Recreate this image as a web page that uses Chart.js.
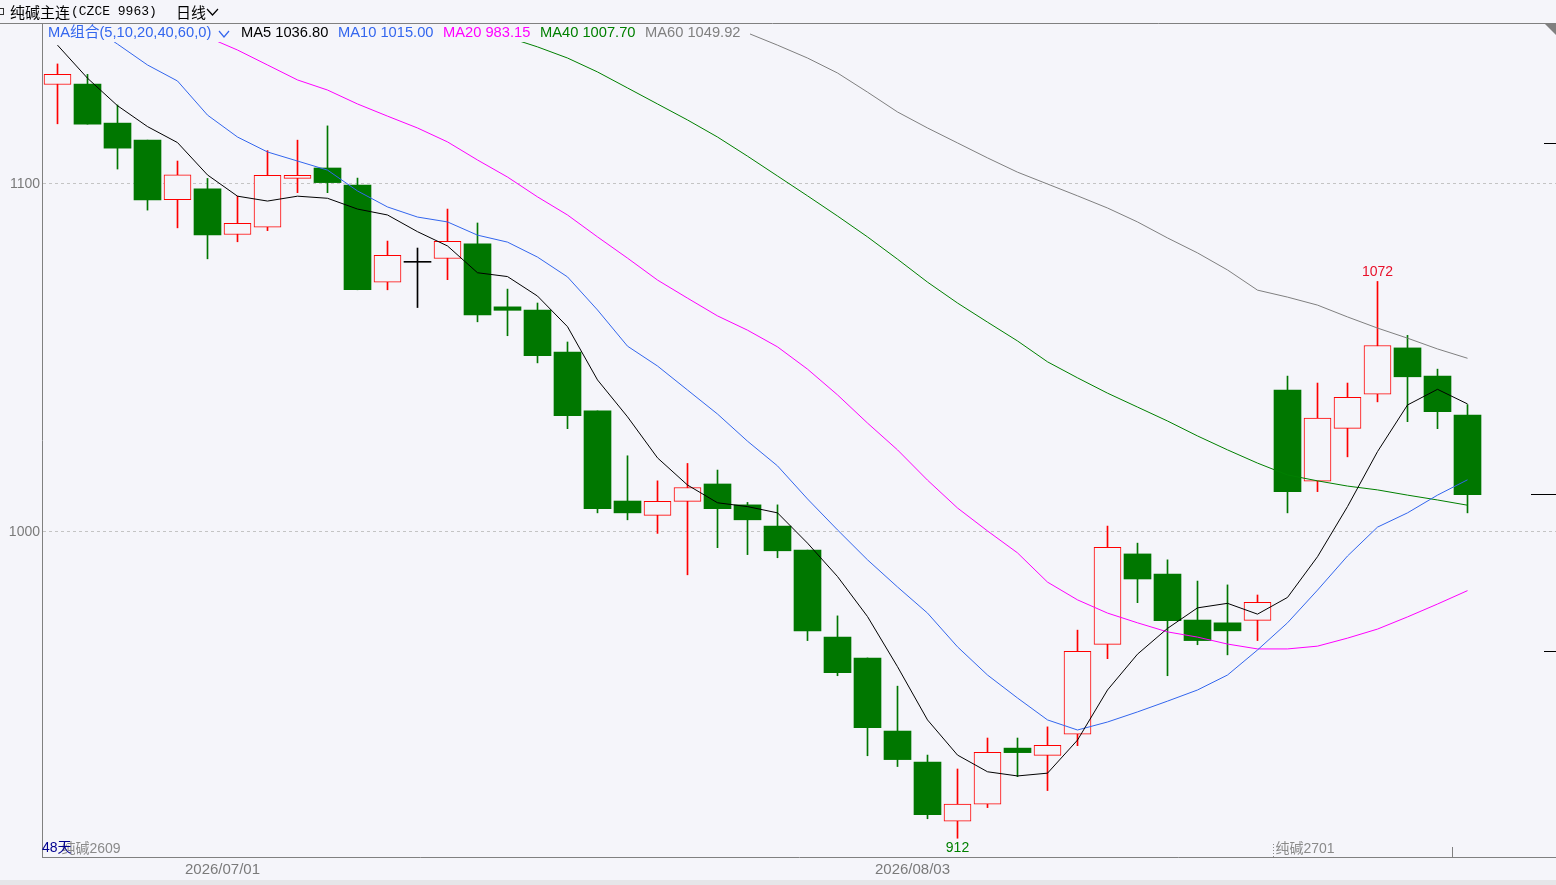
<!DOCTYPE html>
<html><head><meta charset="utf-8">
<script src="https://cdn.jsdelivr.net/npm/chart.js@4.4.1/dist/chart.umd.min.js"></script>
<style>html,body{margin:0;padding:0;background:#f5f5fa;overflow:hidden}canvas{display:block}</style>
</head><body>
<canvas id="c" width="1556" height="885"></canvas>
<script>
// ---- data ----
const opens  = [1128.6,1128.7,1117.5,1112.6,1095.5,1098.6,1085.5,1087.6,1101.6,1104.6,1099.7,1071.8,1077.5,1078.6,1082.8,1064.7,1063.8,1051.7,1034.8,1008.9,1004.8,1008.8,1013.8,1007.8,1001.7,994.8,969.8,963.8,942.8,933.9,916.9,921.8,937.9,935.8,941.9,967.7,993.7,987.9,974.7,973.9,974.6,1040.8,1014.6,1029.8,1039.6,1052.9,1044.8,1033.6];
const highs  = [1134.5,1131.5,1122.7,1112.6,1106.6,1101.6,1096.5,1109.6,1112.6,1116.7,1101.7,1083.6,1081.6,1092.8,1088.8,1069.8,1065.8,1054.6,1034.8,1021.9,1014.7,1019.7,1017.8,1008.5,1007.8,994.8,975.9,963.8,955.7,935.9,931.9,940.8,940.8,944.0,971.8,1001.7,996.8,992.0,985.9,984.8,981.9,1044.8,1042.8,1042.8,1072.0,1056.5,1046.8,1036.6];
const lows   = [1117.3,1117.2,1104.3,1092.5,1087.4,1078.5,1083.4,1086.6,1097.5,1097.5,1069.6,1069.6,1064.5,1072.5,1060.4,1056.4,1048.6,1029.7,1005.5,1003.5,999.6,987.7,995.5,993.5,992.6,968.8,958.7,935.7,932.6,917.6,912.0,920.8,929.7,925.7,938.6,963.6,979.7,958.7,967.6,964.7,968.8,1005.5,1011.6,1021.6,1037.4,1031.7,1029.7,1005.5];
const closes = [1131.5,1117.2,1110.3,1095.4,1102.6,1085.4,1088.7,1102.5,1102.5,1100.4,1069.6,1079.5,1077.5,1083.5,1062.4,1063.7,1050.7,1033.4,1006.7,1005.5,1008.8,1012.8,1006.7,1003.5,994.6,971.6,959.6,943.8,934.6,918.8,921.8,936.7,936.6,938.7,965.7,995.6,986.5,974.5,968.8,971.6,979.8,1011.6,1032.7,1038.7,1053.6,1044.6,1034.6,1010.7];

const ma5  = [1139.9,1130.4,1122.5,1116.5,1111.9,1102.6,1096.5,1095.1,1096.5,1095.9,1092.8,1091.1,1086.3,1082.2,1074.5,1073.4,1067.8,1059.0,1043.7,1033.1,1021.3,1013.5,1008.4,1007.3,1005.5,996.8,987.2,975.7,961.3,946.0,935.9,931.1,929.9,930.7,940.2,954.6,964.9,972.3,978.2,979.5,976.4,981.2,992.9,1007.3,1023.1,1036.5,1041.0,1036.80];
const ma10 = [1150.0,1146.0,1140.2,1134.2,1129.6,1119.8,1113.5,1109.2,1106.6,1104.0,1098.0,1093.4,1090.5,1089.1,1085.3,1083.3,1079.0,1073.3,1063.8,1053.4,1047.7,1040.8,1033.9,1026.1,1019.0,1009.5,1000.6,992.0,984.2,976.7,967.0,958.9,952.3,946.0,943.1,945.4,948.3,951.4,954.6,958.9,966.1,973.9,983.3,993.1,1001.4,1005.5,1010.6,1015.00];
const ma20 = [1160.9,1157.2,1153.4,1149.7,1146.0,1142.2,1138.5,1134.2,1129.9,1127.0,1123.0,1119.5,1116.1,1112.1,1106.9,1102.0,1096.3,1091.1,1084.8,1078.7,1072.4,1067.2,1062.1,1058.0,1053.2,1046.8,1039.4,1031.3,1023.6,1014.9,1006.9,1000.3,994.0,985.6,980.5,976.7,973.9,971.3,969.8,967.8,966.4,966.4,967.2,969.5,972.1,975.6,979.3,983.15];
const ma40 = [1181.0,1178.5,1176.0,1173.5,1171.0,1168.5,1166.0,1163.5,1161.0,1158.5,1156.0,1152.9,1150.3,1147.7,1145.1,1142.2,1139.4,1136.2,1132.2,1127.6,1123.0,1118.4,1113.5,1108.0,1102.3,1096.6,1090.8,1084.8,1078.4,1071.8,1065.8,1060.3,1054.9,1048.9,1044.3,1039.9,1035.9,1031.9,1027.6,1023.6,1019.8,1016.4,1014.7,1013.2,1012.1,1010.6,1009.2,1007.70];
const ma60 = [1196.2,1194.7,1193.1,1191.4,1189.6,1187.8,1185.9,1183.9,1181.9,1179.8,1177.6,1175.4,1173.1,1170.7,1168.3,1165.8,1163.2,1160.6,1157.9,1155.0,1152.2,1149.3,1146.4,1143.4,1139.9,1136.2,1131.9,1126.4,1120.7,1116.1,1111.8,1107.5,1103.4,1100.0,1096.6,1093.1,1089.1,1084.5,1080.2,1075.3,1069.5,1067.5,1065.2,1061.8,1058.6,1055.7,1052.6,1049.92];

const dateLabels = ['2026/07/01', '2026/08/03'];
const dateIndex  = [6, 29];
const yTicks     = [1000, 1100];
const rightMarks = [1111.8, 965.8];
const contractNames = ['纯碱2609', '纯碱2701'];
const contractStart = [0, 41];
const dayCountText = '48天';

// ---- styles ----
const BG = '#f5f5fa';
const RED = '#ff0000';
const GREEN = '#007700';
const BLUE = '#3366ee';
const FONT = '"Liberation Sans", "Noto Sans CJK SC", sans-serif';
Chart.defaults.font.family = FONT;

const n = closes.length;
const dir = i => closes[i] > opens[i] ? 1 : (closes[i] < opens[i] ? -1 : 0);
const candleColor = i => dir(i) > 0 ? RED : (dir(i) < 0 ? GREEN : '#000000');

const wickData = lows.map((l, i) => ({x: i, y: [l, highs[i]]}));
const bodyData = opens.map((o, i) => ({x: i, y: [o, closes[i]]}));
const lineDs = (arr, color) => ({
  type: 'line', data: arr.map((v, i) => ({x: i, y: v})), borderColor: color,
  borderWidth: 1, pointRadius: 0, tension: 0, fill: false, order: 0
});

const legendItems = [
  {label: 'MA5',  arr: ma5,  color: '#000000', x: 241},
  {label: 'MA10', arr: ma10, color: BLUE,      x: 338},
  {label: 'MA20', arr: ma20, color: '#ff00ff', x: 443},
  {label: 'MA40', arr: ma40, color: '#008000', x: 540},
  {label: 'MA60', arr: ma60, color: '#808080', x: 645}
];

const decor = {
  id: 'decor',
  beforeDraw(chart) {
    const {ctx, width, height} = chart;
    ctx.save();
    ctx.fillStyle = BG; ctx.fillRect(0, 0, width, height);
    ctx.fillStyle = '#e6e6e9'; ctx.fillRect(0, 880, width, height - 880);
    ctx.restore();
  },
  afterDatasetsDraw(chart) {
    const {ctx, chartArea: a, scales: {x, y}} = chart;
    ctx.save();
    // legend band
    ctx.fillStyle = BG;
    ctx.fillRect(a.left + 1, a.top + 1, 707, 18);
    ctx.textBaseline = 'middle';
    ctx.font = '14.7px ' + FONT;
    ctx.fillStyle = BLUE;
    ctx.font = '14.7px "Liberation Sans", "Noto Sans CJK SC", sans-serif';
    ctx.fillText('MA组合(5,10,20,40,60,0)', 48, 33);
    ctx.strokeStyle = BLUE; ctx.lineWidth = 1.2;
    ctx.beginPath(); ctx.moveTo(219, 31); ctx.lineTo(224, 37); ctx.lineTo(229, 31); ctx.stroke();
    legendItems.forEach(it => {
      ctx.fillStyle = it.color;
      ctx.fillText(it.label + ' ' + it.arr[it.arr.length - 1].toFixed(2), it.x, 33);
    });

    // top border
    ctx.strokeStyle = '#808080'; ctx.lineWidth = 1;
    ctx.beginPath(); ctx.moveTo(0, a.top + 0.5); ctx.lineTo(1545, a.top + 0.5); ctx.stroke();
    ctx.fillStyle = '#808080';
    ctx.beginPath(); ctx.moveTo(1544, a.top); ctx.lineTo(1556, a.top); ctx.lineTo(1556, a.top + 12); ctx.closePath(); ctx.fill();

    // right axis marks
    ctx.strokeStyle = '#000000';
    rightMarks.forEach(v => {
      const py = Math.round(y.getPixelForValue(v)) + 0.5;
      ctx.beginPath(); ctx.moveTo(1544, py); ctx.lineTo(1556, py); ctx.stroke();
    });
    const pc = Math.round(y.getPixelForValue(closes[n - 1])) - 0.5;
    ctx.beginPath(); ctx.moveTo(1531, pc); ctx.lineTo(1556, pc); ctx.stroke();

    // extreme labels: lowest low, and highest high of the rebound after it
    let lo = 0;
    for (let i = 1; i < n; i++) if (lows[i] < lows[lo]) lo = i;
    let hi = lo;
    for (let i = lo; i < n; i++) if (highs[i] > highs[hi]) hi = i;
    ctx.font = '14px ' + FONT;
    ctx.textAlign = 'center';
    ctx.textBaseline = 'bottom';
    ctx.fillStyle = '#e8102a';
    ctx.fillText(String(Math.round(highs[hi])), x.getPixelForValue(hi), y.getPixelForValue(highs[hi]) - 2);
    ctx.textBaseline = 'top';
    ctx.fillStyle = '#008000';
    ctx.fillText(String(Math.round(lows[lo])), x.getPixelForValue(lo), y.getPixelForValue(lows[lo]) + 3);

    // contract names
    ctx.textAlign = 'left';
    ctx.textBaseline = 'middle';
    ctx.font = '14px ' + FONT;
    ctx.fillStyle = '#8a8a8a';
    const slot = x.getPixelForValue(1) - x.getPixelForValue(0);
    contractNames.forEach((name, k) => {
      const sx = x.getPixelForValue(contractStart[k]) - slot / 2;
      if (k === 0) {
        ctx.fillText(name, sx + 19, 849);
      } else {
        ctx.fillText(name, sx + 3, 849);
        ctx.strokeStyle = '#8a8a8a';
        ctx.setLineDash([1, 2]);
        ctx.beginPath(); ctx.moveTo(Math.round(sx) + 0.5, 844); ctx.lineTo(Math.round(sx) + 0.5, 857); ctx.stroke();
        ctx.setLineDash([]);
      }
    });
    ctx.fillStyle = '#000090';
    ctx.fillText(dayCountText, a.left, 848);
    // small tick near last bar
    const tx = Math.round(x.getPixelForValue(n - 1) - slot / 2) - 0.5;
    ctx.strokeStyle = '#808080';
    ctx.beginPath(); ctx.moveTo(tx, 847); ctx.lineTo(tx, 857); ctx.stroke();
    ctx.restore();
  },
  afterDraw(chart) {
    const {ctx} = chart;
    ctx.save();
    ctx.textBaseline = 'middle';
    ctx.fillStyle = '#000000';
    ctx.strokeStyle = '#333333';
    ctx.lineWidth = 1;
    ctx.strokeRect(-0.5, 8.5, 4, 6);
    ctx.font = '15px "Noto Sans CJK SC", sans-serif';
    ctx.fillText('纯碱主连', 10, 12);
    ctx.font = '13px "Liberation Mono", monospace';
    ctx.fillText('(CZCE 9963)', 71, 12);
    ctx.font = '15px "Noto Sans CJK SC", sans-serif';
    ctx.fillText('日线', 176, 12);
    ctx.strokeStyle = '#000000'; ctx.lineWidth = 1.2;
    ctx.beginPath(); ctx.moveTo(207, 9); ctx.lineTo(212.5, 15); ctx.lineTo(218, 9); ctx.stroke();
    ctx.restore();
  }
};

const SLOTS = (1556 - 42) / 30;
const X_MIN = -0.5 - 0.5 / 30;

new Chart(document.getElementById('c'), {
  type: 'bar',
  data: {
    datasets: [
      lineDs(ma5, '#000000'),
      lineDs(ma10, BLUE),
      lineDs(ma20, '#ff00ff'),
      lineDs(ma40, '#008000'),
      lineDs(ma60, '#808080'),
      {
        type: 'bar', data: bodyData, order: 1, grouped: false, barThickness: 27, minBarLength: 1,
        backgroundColor: c => dir(c.dataIndex) > 0 ? BG : candleColor(c.dataIndex),
        borderColor: c => candleColor(c.dataIndex),
        borderWidth: c => dir(c.dataIndex) > 0 ? 1 : 0,
        borderSkipped: false
      },
      {
        type: 'bar', data: wickData, order: 2, grouped: false, barThickness: 1,
        backgroundColor: c => candleColor(c.dataIndex), borderWidth: 0
      }
    ]
  },
  options: {
    responsive: false, animation: false, devicePixelRatio: 1, events: [],
    layout: {padding: {top: 23, left: 0, right: 0, bottom: 0}},
    plugins: {legend: {display: false}, tooltip: {enabled: false}},
    scales: {
      x: {
        type: 'linear', min: X_MIN, max: X_MIN + SLOTS, offset: false,
        grid: {display: false, drawTicks: false},
        border: {display: true, color: '#808080', width: 1},
        afterBuildTicks: s => { s.ticks = dateIndex.map(v => ({value: v})); },
        afterFit: s => { s.height = 28; },
        ticks: {
          autoSkip: false, maxRotation: 0, padding: 4, labelOffset: -15, color: '#7a7a7a',
          font: {size: 15}, callback: v => { const k = dateIndex.indexOf(v); return k >= 0 ? dateLabels[k] : ''; }
        }
      },
      y: {
        type: 'linear', position: 'left', min: 1000 - 325 / 3.48, max: 1100 + 161 / 3.48,
        grid: {color: '#c4c4c4', drawTicks: false, lineWidth: 1},
        border: {display: true, color: '#808080', width: 1, dash: [3, 3]},
        afterBuildTicks: s => { s.ticks = yTicks.map(v => ({value: v})); },
        afterFit: s => { s.width = 42; },
        ticks: {padding: 2, color: '#7a7a7a', font: {size: 14}, callback: v => String(v)}
      }
    }
  },
  plugins: [decor]
});
</script>
</body></html>
